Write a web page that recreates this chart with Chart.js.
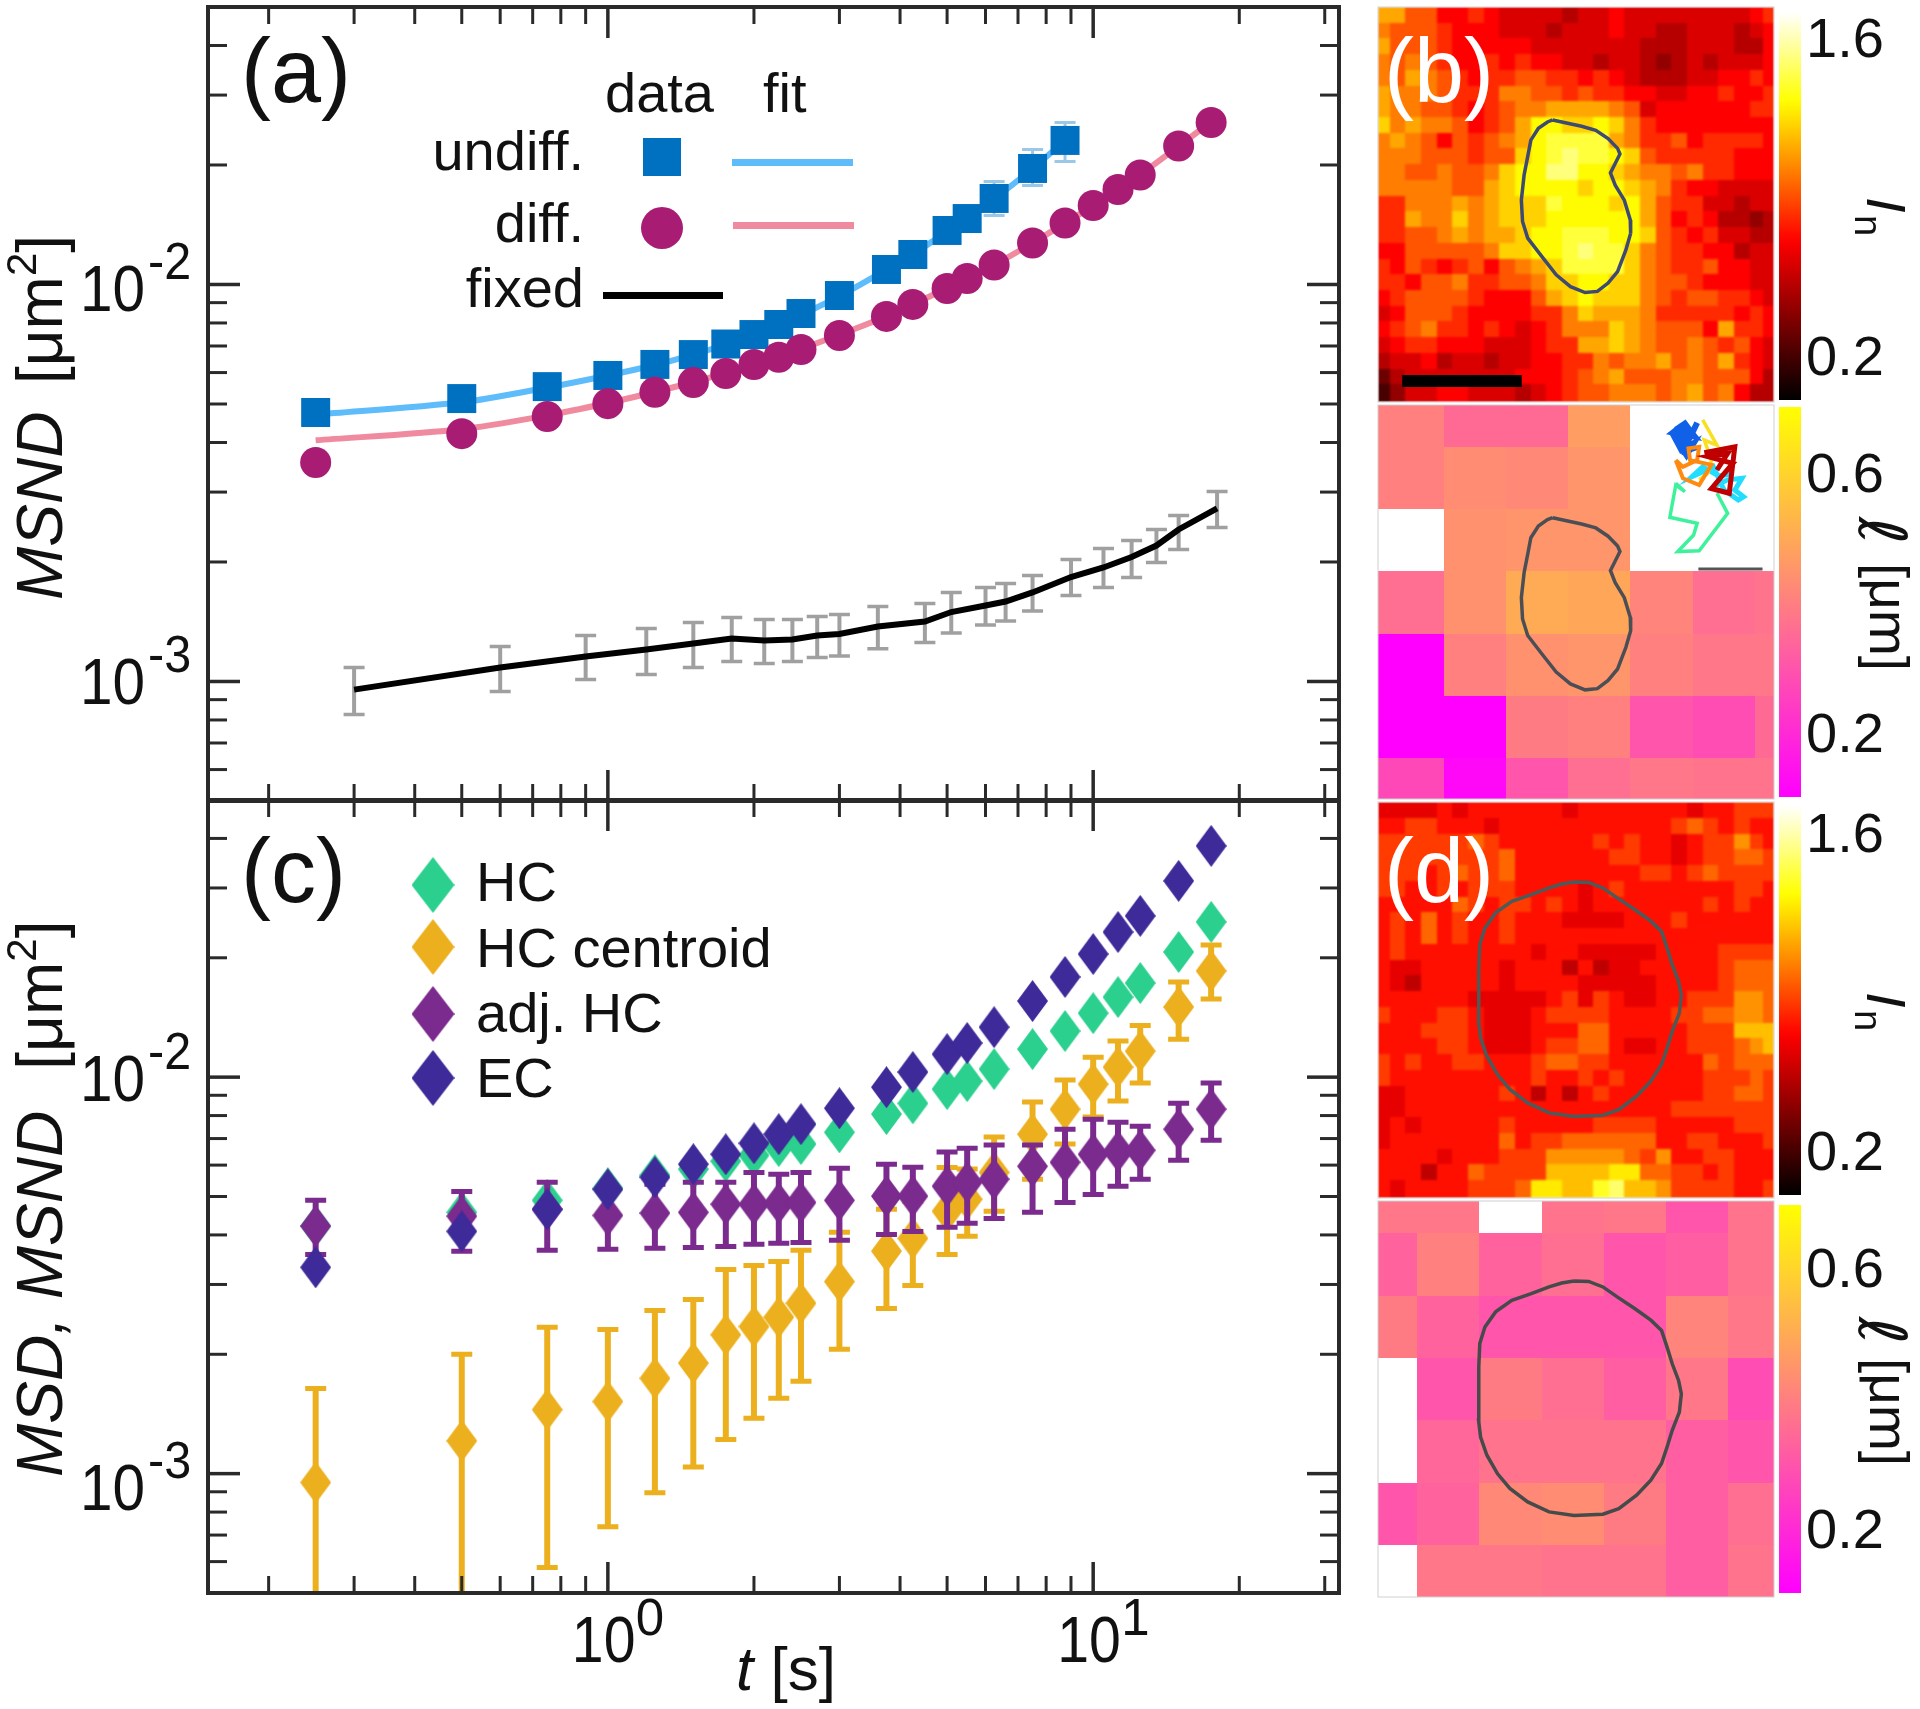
<!DOCTYPE html>
<html><head><meta charset="utf-8">
<style>html,body{margin:0;padding:0;background:#fff;width:1920px;height:1709px;overflow:hidden}
canvas{position:absolute;left:0;top:0}</style>
<script src="https://cdn.jsdelivr.net/npm/chart.js@4/dist/chart.umd.js"></script>
</head><body>
<canvas id="ca" width="1920" height="1709"></canvas>
<canvas id="cc" width="1920" height="1709"></canvas>
<canvas id="cb1" width="1920" height="1709"></canvas>
<canvas id="cb2" width="1920" height="1709"></canvas>
<canvas id="cd1" width="1920" height="1709"></canvas>
<canvas id="cd2" width="1920" height="1709"></canvas>
<script>
// ---------- panel (a)
const timesUndiff=[0.25,0.5,0.75,1,1.25,1.5,1.75,2,2.25,2.5,3,3.75,4.25,5,5.5,6.25,7.5,8.75];
const times=[0.25,0.5,0.75,1,1.25,1.5,1.75,2,2.25,2.5,3,3.75,4.25,5,5.5,6.25,7.5,8.75,10,11.25,12.5,15,17.5];
const undiffData=[.00476,.00516,.00553,.0059,.00629,.00666,.00708,.00748,.00793,.00845,.00938,.01091,.0119,.01368,.01466,.01647,.0196,.02306];
const undiffFit=[.0047,.00505,.0055,.0059,.00627,.00666,.00706,.00746,.00792,.00838,.00935,.0109,.0119,.0136,.0146,.0164,.0196,.023];
const undiffErrTimes=[6.25,7.5,8.75];
const undiffErrHigh=[.01817,.02188,.02559];
const undiffErrLow=[.01492,.01776,.02041];
const diffData=[.00356,.00421,.00465,.00501,.00535,.00566,.00597,.00629,.00656,.00686,.00744,.00831,.00891,.00977,.01035,.0112,.01272,.01428,.01581,.01735,.01888,.02232,.02559];
const diffFit=[.00405,.00432,.00468,.00503,.00536,.00568,.00598,.00628,.00658,.00688,.00747,.00832,.00892,.00978,.01036,.0112,.01272,.01428,.0158,.01735,.0189,.0223,.0257];
const fixedTimes=[.3,.6,.9,1.2,1.5,1.8,2.1,2.4,2.7,3,3.6,4.5,5.1,6,6.6,7.5,9,10.5,12,13.5,15,18];
const fixedData=[.000954,.001085,.001156,.001204,.001247,.001283,.001269,.001276,.001306,.001317,.001376,.001416,.001496,.001554,.00159,.001676,.001833,.001937,.002058,.0022,.002415,.002728];
const fixedHigh=[.001085,.001225,.001306,.00136,.001408,.00145,.001433,.001433,.001458,.001475,.001545,.001572,.001676,.001725,.001766,.00185,.00203,.002163,.002266,.002415,.002618,.003011];
const fixedLow=[.000826,.000944,.001012,.001041,.001085,.001123,.00111,.001123,.00115,.00116,.00121,.001254,.001325,.001387,.00142,.001505,.001647,.001725,.001828,.001994,.00215,.002443];
// ---------- panel (c)
const ecData=[.003314,.004084,.004642,.005215,.005592,.00603,.00639,.00681,.00718,.00761,.00835,.00943,.0103,.01143,.01219,.01337,.01556,.01789,.02044,.02323,.02551,.03126,.0383];
const hcData=[.00421,.00456,.00489,.00524,.00566,.00586,.00614,.00635,.0067,.00678,.00726,.00807,.00859,.00933,.00977,.01048,.01177,.01307,.0145,.01592,.01727,.02069,.02463];
const adjData=[.00421,.00446,.00464,.00448,.00454,.00456,.00478,.00478,.00481,.00483,.00489,.00501,.00501,.00531,.00543,.00553,.00596,.0061,.00639,.0065,.00654,.00739,.0083];
const adjHigh=[.00489,.00515,.00543,.00531,.00537,.00543,.00543,.00575,.00569,.00575,.00589,.00603,.00593,.00647,.00662,.00674,.00674,.00739,.00783,.0077,.00752,.00859,.00966];
const adjLow=[.00357,.00364,.00366,.00368,.0037,.00372,.00374,.00379,.00381,.00383,.00388,.00401,.00408,.00418,.00428,.0044,.00456,.00483,.00506,.00531,.00553,.00617,.00693];
const centData=[.00095,.00121,.00145,.00152,.00174,.0019,.00224,.00235,.00248,.00269,.00305,.00364,.00392,.00459,.00492,.00575,.00718,.0083,.0096,.0106,.01163,.01503,.01853];
const centHigh=[.00164,.002,.00234,.00231,.00258,.00275,.00327,.00335,.00343,.00366,.00406,.00464,.00486,.00592,.00587,.00706,.00865,.00983,.01123,.01233,.0135,.01738,.02154];
const centLow=[.00028,.00044,.00058,.000735,.000895,.00104,.00122,.00138,.00155,.00171,.00206,.00261,.00298,.00357,.00397,.00459,.00553,.00678,.00793,.0087,.00966,.01247,.01574];
// ---------- axes
const xMajor=[1,10];
const xMinor=[.2,.3,.4,.5,.6,.7,.8,.9,2,3,4,5,6,7,8,9,20,30];
const yMajor=[.01,.001];
const yMinor=[.0006,.0007,.0008,.0009,.002,.003,.004,.005,.006,.007,.008,.009,.02,.03,.04];
// ---------- maps, I_n x 10
const heatB=[
[11,11,9,9,7,7,8,7,6,6,6,6,5,6,6,7,6,6,6,6,6,6,6,6,7,8],
[10,9,9,9,8,7,7,7,6,6,6,5,6,6,6,7,6,6,5,5,6,6,6,5,6,7],
[11,9,9,9,8,7,7,7,7,7,6,6,6,6,6,6,6,5,5,5,6,6,6,5,5,7],
[10,9,10,9,8,7,7,8,7,8,7,7,6,6,5,6,6,5,4,5,6,5,6,6,6,7],
[10,9,11,10,9,8,7,8,8,9,9,8,8,7,8,7,6,5,5,5,6,6,7,7,8,7],
[11,10,10,10,9,8,8,8,10,10,9,9,8,9,8,8,7,7,6,6,7,7,8,7,7,8],
[11,10,10,9,9,8,7,8,9,10,10,11,11,11,11,10,9,6,7,7,7,7,7,7,8,8],
[12,10,11,10,10,9,7,8,9,11,13,13,12,12,13,12,10,8,7,7,7,7,7,7,7,7],
[10,11,10,9,7,9,8,9,10,11,13,14,14,14,14,11,10,8,8,9,7,8,8,8,8,7],
[10,10,10,9,9,9,8,9,9,12,13,14,15,14,14,13,12,9,8,8,8,8,8,7,7,7],
[10,10,9,9,10,9,9,10,12,13,13,15,15,13,13,12,11,10,10,9,10,8,8,7,7,7],
[10,10,10,10,10,9,9,11,12,13,13,13,13,12,13,13,12,11,10,8,7,7,6,6,6,6],
[8,8,10,10,10,11,10,11,12,12,12,14,13,13,13,12,13,11,9,8,8,6,6,5,6,6],
[8,8,11,10,10,12,10,11,12,12,12,13,13,13,13,13,13,11,9,7,8,7,5,5,4,5],
[8,8,9,9,10,11,10,11,11,12,13,13,14,14,14,13,13,12,9,8,7,8,6,6,5,5],
[7,7,9,9,9,9,9,10,12,12,13,13,14,15,14,14,12,10,9,8,8,7,7,5,6,6],
[8,7,9,8,7,8,9,7,9,10,11,12,14,14,14,14,12,10,9,8,8,9,7,7,6,6],
[8,8,7,9,9,10,8,8,9,9,10,12,12,13,13,12,12,10,9,9,8,7,7,7,6,6],
[7,8,9,9,9,9,8,7,7,7,9,11,12,13,12,12,12,10,9,8,9,9,8,8,7,6],
[6,7,9,9,9,8,7,7,7,7,8,8,10,12,11,11,11,10,8,8,8,8,8,7,8,7],
[7,8,9,10,8,8,7,8,7,6,7,8,10,10,10,12,11,10,9,9,9,7,11,8,8,7],
[6,7,8,8,7,7,7,6,6,6,7,8,8,11,11,12,11,10,9,9,10,9,8,9,7,6],
[5,6,6,7,5,6,6,5,6,6,7,7,8,8,10,9,10,10,11,9,10,9,11,8,7,6],
[3,5,6,6,6,6,6,6,6,7,7,7,8,9,10,11,9,9,9,10,10,9,9,9,7,5],
[2,4,6,6,7,7,6,6,6,5,6,7,8,9,9,10,10,10,9,10,11,9,10,7,5,5]];
const heatD=[
[6,6,6,6,7,6,7,7,7,7,7,7,6,7,7,7,7,7,7,7,6,7,7,8,8,8],
[7,7,8,8,7,7,7,6,7,7,7,7,7,7,7,7,7,7,7,8,9,8,7,8,7,7],
[8,8,8,8,8,8,9,8,7,7,7,7,7,7,8,7,8,7,7,6,7,8,8,10,8,7],
[8,8,8,8,8,8,8,8,9,7,7,7,7,7,7,8,8,7,7,6,7,8,8,9,9,8],
[8,8,8,7,8,9,8,8,9,7,7,7,7,7,7,7,7,8,8,7,8,9,8,8,8,8],
[8,8,7,7,8,7,8,8,8,7,7,7,7,6,7,8,7,7,7,7,7,7,7,8,8,7],
[7,7,7,7,7,9,8,7,8,8,7,8,7,6,7,7,7,7,7,7,7,8,7,8,7,7],
[7,8,7,9,7,8,7,7,8,7,7,7,6,6,6,6,7,7,7,8,7,7,7,7,7,7],
[7,8,7,9,7,8,7,7,8,7,7,7,7,7,7,7,7,7,7,7,7,7,7,7,7,7],
[7,8,7,7,7,7,7,7,7,7,6,7,7,6,6,6,6,6,7,7,7,7,8,8,8,8],
[7,6,6,7,7,7,7,7,6,7,7,7,5,7,5,6,6,7,7,7,7,7,8,9,9,9],
[7,6,5,7,7,7,7,7,6,7,7,7,7,6,6,6,6,6,7,7,7,7,8,9,9,9],
[7,7,7,7,7,7,6,6,6,6,6,7,8,6,8,7,6,6,7,7,8,8,8,10,10,9],
[8,7,7,7,8,8,7,6,6,6,7,8,8,8,8,7,7,7,7,8,8,9,9,10,10,9],
[7,7,7,8,8,8,7,6,6,6,7,7,7,9,9,7,7,7,7,7,8,8,8,11,11,11],
[7,7,7,7,8,8,7,6,6,6,7,8,8,9,9,7,6,6,7,7,8,8,8,9,10,11],
[8,7,8,7,7,8,8,7,7,7,8,9,9,8,8,7,7,7,7,7,7,9,8,9,9,9],
[8,7,7,7,7,7,7,7,7,7,8,7,7,8,7,8,7,7,7,7,7,8,8,8,9,8],
[6,6,7,7,7,7,7,7,8,7,5,7,5,7,8,7,7,7,7,7,7,8,8,9,9,8],
[6,6,7,7,7,7,7,7,7,7,7,7,7,7,7,7,7,7,7,8,8,8,8,8,8,8],
[6,7,6,7,7,7,7,7,8,7,7,7,7,7,8,8,8,8,7,7,7,7,7,8,8,8],
[6,7,7,7,7,7,7,7,9,7,8,8,9,9,9,9,9,9,7,7,8,8,7,7,7,8],
[7,7,7,7,6,7,7,7,8,8,8,10,10,10,10,10,9,8,10,7,7,8,8,7,7,7],
[7,7,7,5,7,7,9,8,8,8,8,11,11,11,11,12,12,9,9,8,8,7,8,7,7,7],
[7,6,7,7,7,7,8,8,8,9,12,12,11,11,13,14,11,11,10,8,8,8,8,7,7,8]];
const heatColEdges=[0,2.98,6.93,10.88,14.83,18.78,22.73,26.68,30.63,34.58,38.53,42.48,46.43,50.38,54.33,58.28,62.23,66.18,70.13,74.08,78.03,81.98,85.93,89.88,93.83,97.3,100];
const heatRowEdges=[0,3.98,7.96,11.94,15.92,19.9,23.88,27.86,31.84,35.82,39.8,43.78,47.76,51.74,55.72,59.7,63.68,67.66,71.64,75.62,79.6,83.58,87.56,91.54,95.52,100];
const ellB=[
[.40,.35,.35,.47,null,null,null],
[.40,.43,.42,.45,null,null,null],
[null,.44,.45,.45,null,null,null],
[.36,.44,.50,.49,.41,.36,.37],
[.10,.40,.44,.45,.40,.38,.38],
[.10,.10,.39,.40,.30,.28,.35],
[.27,.12,.30,.36,.38,.37,.37]];
const ellBCols=[0,16.7,32.4,47.9,63.7,79.5,95.2,100];
const ellBRows=[0,10.6,26.4,42.1,58,73.8,89.7,100];
const ellD=[
[.38,.38,null,.37,.38,.30,.37],
[.33,.40,.33,.36,.30,.32,.37],
[.39,.33,.30,.30,.30,.41,.38],
[null,.30,.39,.36,.32,.38,.28],
[null,.34,.37,.37,.37,.32,.30],
[.30,.33,.42,.43,.39,.32,.36],
[null,.38,.38,.37,.37,.32,.37]];
const ellDCols=[0,9.9,25.4,41.4,57,72.7,88.3,100];
const ellDRows=[0,8.2,23.9,39.6,55.4,71.1,86.8,100];
// cell outlines, % of image
const outlineBx=[44.1,47.3,51.4,55,58.1,60.5,61.1,59.9,58.7,59.9,62.2,63.7,63.8,62.6,60.5,58.1,55.4,52.3,48.6,45,41.4,37.8,36.5,36.2,36.9,37.8,38.6,40.5,42.8,44.1];
const outlineBy=[28.6,29.3,30.2,31.2,33.3,35.8,37.2,39.6,42,45.1,48.9,53.9,57.3,61.5,67,69.9,72,72.3,70.8,67.8,63.2,58.5,54.3,48.9,42.5,37.9,33.7,30.7,29.1,28.6];
const outlineDx=[49.5,53.2,56.8,60.4,64.9,68.9,71.6,73,74.3,75.9,76.6,76.1,74.3,73,71.6,68.9,65.3,60.8,56.8,49.5,43.2,37.8,33.3,30.2,27.5,25.9,25.4,25.5,25.4,25.7,27,29.7,33.8,38.7,43.2,46.4,49.5];
const outlineDy=[20.2,20.3,21.7,24.2,27.2,30.1,32.7,36.9,41.1,45.3,48.7,53.3,57.9,62.1,66.3,70.5,74.3,77.7,79.1,79.4,78.5,76,72.6,68.9,64.2,59.6,55.4,48.7,41.9,36,31.8,28,25.1,23.4,21.7,20.7,20.2];
// inset trajectory, % of image
const trajGreenX=[75.2,77.5,75.2,73.7,80.6,79.7,75.7,81.1,88.3,85.6], trajGreenY=[19.9,22,20.3,28.5,30,33,37.2,37,27.5,22.4];
const trajCyanX=[84.7,88.3,91.9,90.1,92.3,91,87.4,84.7,79.3,82,86,89], trajCyanY=[20.7,19,18.6,21.6,23.3,24.1,21.6,15.7,18.2,15.7,18,17.5];
const trajYellowX=[82,85.6,82.4,84.2,83.3,81.1], trajYellowY=[3.8,10.2,8.9,14,17.3,19];
const trajBlueX=[75.2,77.5,79.3,80.6,78.4,74.8,76.6,79.7,77.9,75.5,79,77,78.5,76,74.5,80,78,76,79.5,76.5], trajBlueY=[6.3,4.7,7.2,4.5,8.9,8,11.4,9.7,12.7,9,6,7.5,10.5,5.8,7,8,5.5,9.5,11,12];
const trajOrangeX=[75.2,77,81.1,84.2,78.8,78.4,81.1,80.6,77,75.2], trajOrangeY=[14,18.6,20.3,15.2,14,11,10.6,14,15.7,14];
const trajRedX=[82.4,90.1,88.7,84.2,89.6,83.3,88.3,85.6], trajRedY=[12.1,10.6,22.4,21.2,14.8,13.1,12.3,16.5];

const SANS='"Liberation Sans"';
const zip=(xs,ys)=>xs.map((x,i)=>({x,y:ys[i]}));
function diamond(w,h,c){const k=document.createElement('canvas');k.width=w;k.height=h;const g=k.getContext('2d');g.fillStyle=c;g.beginPath();g.moveTo(w/2,0);g.lineTo(w,h/2);g.lineTo(w/2,h);g.lineTo(0,h/2);g.closePath();g.fill();return k;}
function text(ctx,s,x,y,font,color,align,sx){ctx.save();ctx.translate(x,y);if(sx)ctx.scale(sx,1);ctx.font=font;ctx.fillStyle=color||'#111';ctx.textAlign=align||'left';ctx.textBaseline='alphabetic';ctx.fillText(s,0,0);ctx.restore();}
// rotated text in runs; rot in radians, each run [str,font,shift]
function runs(ctx,x,y,rot,list){ctx.save();ctx.translate(x,y);ctx.rotate(rot);ctx.fillStyle='#111';ctx.textBaseline='alphabetic';let p=0;for(const [s,f,d] of list){ctx.font=f;ctx.fillText(s,p,d||0);p+=ctx.measureText(s).width;}ctx.restore();}

const errorBars={id:'errorBars',beforeDatasetDraw(chart,args){
  const ds=chart.data.datasets[args.index];if(!ds.errHigh)return;
  const {x:sx,y:sy}=chart.scales,a=chart.chartArea,ctx=chart.ctx;
  ctx.save();ctx.beginPath();ctx.rect(a.left,a.top,a.right-a.left,a.bottom-a.top);ctx.clip();
  ctx.strokeStyle=ds.errColor;
  ds.data.forEach((p,i)=>{const px=sx.getPixelForValue(p.x),hi=sy.getPixelForValue(ds.errHigh[i]),lo=sy.getPixelForValue(ds.errLow[i]);
    ctx.lineWidth=ds.errWidth;ctx.beginPath();ctx.moveTo(px,hi);ctx.lineTo(px,lo);ctx.stroke();
    ctx.lineWidth=ds.capThick;ctx.beginPath();ctx.moveTo(px-ds.capW/2,hi);ctx.lineTo(px+ds.capW/2,hi);ctx.moveTo(px-ds.capW/2,lo);ctx.lineTo(px+ds.capW/2,lo);ctx.stroke();});
  ctx.restore();}};

function frame(chart){
  const {x:sx,y:sy}=chart.scales,a=chart.chartArea,ctx=chart.ctx;
  ctx.save();ctx.strokeStyle='#2a2a2a';ctx.lineCap='butt';
  const tick=(x1,y1,x2,y2,w)=>{ctx.lineWidth=w;ctx.beginPath();ctx.moveTo(x1,y1);ctx.lineTo(x2,y2);ctx.stroke();};
  xMinor.forEach(v=>{const p=sx.getPixelForValue(v);tick(p,a.top,p,a.top+17,3);tick(p,a.bottom,p,a.bottom-17,3);});
  xMajor.forEach(v=>{const p=sx.getPixelForValue(v);tick(p,a.top,p,a.top+31,3.5);tick(p,a.bottom,p,a.bottom-31,3.5);});
  yMinor.forEach(v=>{const p=sy.getPixelForValue(v);tick(a.left,p,a.left+19,p,3);tick(a.right,p,a.right-19,p,3);});
  yMajor.forEach(v=>{const p=sy.getPixelForValue(v);tick(a.left,p,a.left+32,p,3.5);tick(a.right,p,a.right-32,p,3.5);});
  ctx.lineWidth=4;ctx.strokeRect(a.left,a.top,a.right-a.left,a.bottom-a.top);
  ctx.restore();
}
function yTickLabels(chart,dy){const sy=chart.scales.y,ctx=chart.ctx;
  [[.01,'-2',dy[0]],[.001,'-3',dy[1]]].forEach(([v,e,d])=>{const p=sy.getPixelForValue(v);
    text(ctx,'10',80,p+d,'65px '+SANS,'#111','left',.9);text(ctx,e,148,p+d-32,'51px '+SANS,'#111','left',.95);});}

const logOptions=(top,bottom)=>({responsive:false,animation:false,devicePixelRatio:1,
  layout:{autoPadding:false,padding:{left:208,top:top,right:1920-1339,bottom:1709-bottom}},
  plugins:{legend:{display:false},tooltip:{enabled:false}},
  scales:{x:{type:'logarithmic',min:.15,max:32.1,display:false},y:{type:'logarithmic',min:.0005,max:.05,display:false}}});

const line=(label,xs,ys,color,w,ten)=>({label,type:'scatter',showLine:true,data:zip(xs,ys),borderColor:color,backgroundColor:color,borderWidth:w,pointRadius:0,tension:ten||0});
const marks=(label,xs,ys,color,style,r)=>({label,type:'scatter',showLine:false,data:zip(xs,ys),backgroundColor:color,borderColor:color,borderWidth:0,pointStyle:style,pointRadius:r});

new Chart(document.getElementById('ca'),{type:'scatter',plugins:[errorBars,{id:'deco',afterDraw(c){
  const g=c.ctx;frame(c);yTickLabels(c,[27,23]);
  text(g,'(a)',241,102,'90px '+SANS);
  text(g,'data',605,112,'56px '+SANS);text(g,'fit',763,112,'56px '+SANS);
  text(g,'undiff.',584,170,'56px '+SANS,'#111','right');text(g,'diff.',584,242,'56px '+SANS,'#111','right');text(g,'fixed',584,307,'56px '+SANS,'#111','right');
  g.fillStyle='#0070c0';g.fillRect(643,138,38,38);
  g.fillStyle='#a81c74';g.beginPath();g.arc(662,228,21,0,7);g.fill();
  g.fillStyle='#5fbcfb';g.fillRect(732,159,121,7);
  g.fillStyle='#f08a9f';g.fillRect(733,222,121,7);
  g.fillStyle='#000';g.fillRect(603,292,120,7);
  runs(g,62,600,-Math.PI/2,[['MSND','italic 64px '+SANS],[' ','35px '+SANS],[' [μm','64px '+SANS],['2','42px '+SANS,-26],[']','64px '+SANS]]);
}}],data:{datasets:[
  Object.assign(line('fixed',fixedTimes,fixedData,'#000',6),{errHigh:fixedHigh,errLow:fixedLow,errColor:'#a0a0a0',errWidth:4,capW:21,capThick:3.5}),
  marks('diff. data',times,diffData,'#a81c74','circle',15.5),
  line('diff. fit',times,diffFit,'#f08a9f',6,.3),
  marks('undiff. data',timesUndiff,undiffData,'#0070c0','rect',20.5),
  line('undiff. fit',timesUndiff,undiffFit,'#5fbcfb',6,.3),
  Object.assign(marks('undiff. error',undiffErrTimes,undiffErrTimes.map((t,i)=>undiffData[timesUndiff.indexOf(t)]),'#9cc8e8','circle',0),{errHigh:undiffErrHigh,errLow:undiffErrLow,errColor:'#9cc8e8',errWidth:3,capW:21,capThick:3})
]},options:logOptions(7,801)});

const dm=c=>diamond(31,42,c);
const GREEN='#2bd08f',ORANGE='#ecb01f',PURPLE='#7b2a8e',NAVY='#3f2a9a';
new Chart(document.getElementById('cc'),{type:'scatter',plugins:[errorBars,{id:'deco',afterDraw(c){
  const g=c.ctx;frame(c);yTickLabels(c,[24,36]);
  const sx=c.scales.x;
  [[1,'0'],[10,'1']].forEach(([v,e])=>{const p=sx.getPixelForValue(v);text(g,'10',p-36,1662,'65px '+SANS,'#111','left',.88);text(g,e,p+28,1635,'51px '+SANS);});
  text(g,'(c)',241,902,'90px '+SANS);
  runs(g,736,1690,0,[['t','italic 62px '+SANS],[' [s]','62px '+SANS]]);
  runs(g,62,1477,-Math.PI/2,[['MSD, MSND','italic 64px '+SANS],[' ','64px '+SANS],[' ','20px '+SANS],[' [μm','64px '+SANS],['2','42px '+SANS,-26],[']','64px '+SANS]]);
  [['HC',GREEN,885,901],['HC centroid',ORANGE,947,967],['adj. HC',PURPLE,1014,1032],['EC',NAVY,1078,1097]].forEach(([s,col,y,b])=>{
    g.drawImage(diamond(43,56,col),433-21.5,y-28);text(g,s,476,b,'56px '+SANS);});
}}],data:{datasets:[
  marks('EC',times,ecData,NAVY,dm(NAVY),15),
  Object.assign(marks('adj. HC',times,adjData,PURPLE,dm(PURPLE),15),{errHigh:adjHigh,errLow:adjLow,errColor:PURPLE,errWidth:6,capW:21,capThick:5}),
  Object.assign(marks('HC centroid',times,centData,ORANGE,dm(ORANGE),15),{errHigh:centHigh,errLow:centLow,errColor:ORANGE,errWidth:6,capW:21,capThick:5}),
  marks('HC',times,hcData,GREEN,dm(GREEN),15)
]},options:logOptions(800,1593)});

// colour maps
function hot(v){const s=[[0,0,0,0],[.7,255,0,0],[1.31,255,255,0],[1.7,255,255,255]];
  for(let i=1;i<s.length;i++){if(v<=s[i][0]){const a=s[i-1],b=s[i],t=(v-a[0])/(b[0]-a[0]);return `rgb(${a[1]+t*(b[1]-a[1])},${a[2]+t*(b[2]-a[2])},${a[3]+t*(b[3]-a[3])})`;}}return '#fff';}
function spring(v){const t=Math.max(0,Math.min(1,(v-.1)/.6));return `rgb(255,${255*t},${255*(1-t)})`;}

function mapChart(id,top,bottom,o){
  const cells={id:'cells',beforeDatasetsDraw(c){
    const {x:sx,y:sy}=c.scales,g=c.ctx,a=c.chartArea;
    const off=document.createElement('canvas');off.width=c.width;off.height=c.height;const h=off.getContext('2d');
    o.cells.forEach((row,r)=>row.forEach((v,k)=>{if(v===null)return;
      const x0=Math.round(sx.getPixelForValue(o.cols[k])),x1=Math.round(sx.getPixelForValue(o.cols[k+1])),y0=Math.round(sy.getPixelForValue(o.rows[r])),y1=Math.round(sy.getPixelForValue(o.rows[r+1]));
      h.fillStyle=o.cmap(o.scale*v);h.fillRect(x0,y0,x1-x0,y1-y0);}));
    g.save();g.beginPath();g.rect(a.left,a.top,a.right-a.left,a.bottom-a.top);g.clip();g.filter='blur('+(o.blur||0.8)+'px)';g.drawImage(off,0,0);g.restore();
  },afterDraw(c){
    const g=c.ctx,a=c.chartArea;
    g.save();g.strokeStyle='#d0d0d0';g.lineWidth=1;g.strokeRect(a.left,a.top,a.right-a.left,a.bottom-a.top);g.restore();
    const gr=g.createLinearGradient(0,o.barTop,0,o.barBottom);
    for(let i=0;i<=40;i++){const f=i/40;gr.addColorStop(f,o.cmap(o.vmax-(o.vmax-o.vmin)*f));}
    g.fillStyle=gr;g.fillRect(1779,o.barTop,22,o.barBottom-o.barTop);
    o.labels.forEach(([s,b])=>text(g,s,1806,b,'56px '+SANS));
    if(o.title)o.title(g);
    if(o.panel)text(g,o.panel,1384,o.panelY,'90px '+SANS,'#fff');
  }};
  new Chart(document.getElementById(id),{type:'scatter',plugins:[cells],data:{datasets:o.datasets},options:{responsive:false,animation:false,devicePixelRatio:1,
    layout:{autoPadding:false,padding:{left:1378,right:1920-1774,top:top,bottom:1709-bottom}},
    plugins:{legend:{display:false},tooltip:{enabled:false}},
    scales:{x:{type:'linear',min:0,max:100,display:false},y:{type:'linear',min:0,max:100,reverse:true,display:false}}}});
}
const R90=Math.PI/2;
const inTitle=y=>g=>{runs(g,1867,y,R90,[['I','italic 56px '+SANS]]);runs(g,1855,y+18,R90,[['n','38px '+SANS]]);};
const ellTitle=(y1,y2)=>g=>{runs(g,1859,y1,R90,[['ℓ','italic 66px "DejaVu Sans"']]);runs(g,1870,y2,R90,[['[μm]','55px '+SANS]]);};
const path=(label,xs,ys,color,w)=>line(label,xs,ys,color,w);

mapChart('cb1',7,402,{cells:heatB,cols:heatColEdges,rows:heatRowEdges,cmap:hot,scale:.1,vmin:0,vmax:1.7,barTop:12,barBottom:400,
  labels:[['1.6',57],['0.2',375]],title:inTitle(197),panel:'(b)',panelY:102,
  datasets:[path('outline',outlineBx,outlineBy,'#3d4a72',3.5),path('scale bar',[6.1,36.3],[94.7,94.7],'#000',12)]});
mapChart('cb2',405,799,{cells:ellB,cols:ellBCols,rows:ellBRows,cmap:spring,scale:1,vmin:.1,vmax:.7,barTop:407,barBottom:797,blur:.6,
  labels:[['0.6',492],['0.2',752]],title:ellTitle(517,563),
  datasets:[path('outline',outlineBx,outlineBy,'#4b4f55',3.5),
    path('t6',trajRedX,trajRedY,'#c00000',5),path('t5',trajOrangeX,trajOrangeY,'#ff8a10',4),path('t4',trajYellowX,trajYellowY,'#f8e020',3.5),
    path('t1',trajBlueX,trajBlueY,'#1060e8',6),path('t3',trajCyanX,trajCyanY,'#22ddff',5),path('t2',trajGreenX,trajGreenY,'#3df29a',3.5),
    path('inset bar',[80.9,97.1],[41.6,41.6],'#555',3)]});
mapChart('cd1',802,1198,{cells:heatD,cols:heatColEdges,rows:heatRowEdges,cmap:hot,scale:.105,vmin:0,vmax:1.7,barTop:805,barBottom:1195,
  labels:[['1.6',852],['0.2',1170]],title:inTitle(992),panel:'(d)',panelY:902,
  datasets:[path('outline',outlineDx,outlineDy,'#4c5a5a',3.5)]});
mapChart('cd2',1201,1597,{cells:ellD,cols:ellDCols,rows:ellDRows,cmap:spring,scale:1,vmin:.1,vmax:.7,barTop:1205,barBottom:1593,blur:.6,
  labels:[['0.6',1287],['0.2',1548]],title:ellTitle(1317,1358),
  datasets:[path('outline',outlineDx,outlineDy,'#454a4a',3.5)]});
</script></body></html>
